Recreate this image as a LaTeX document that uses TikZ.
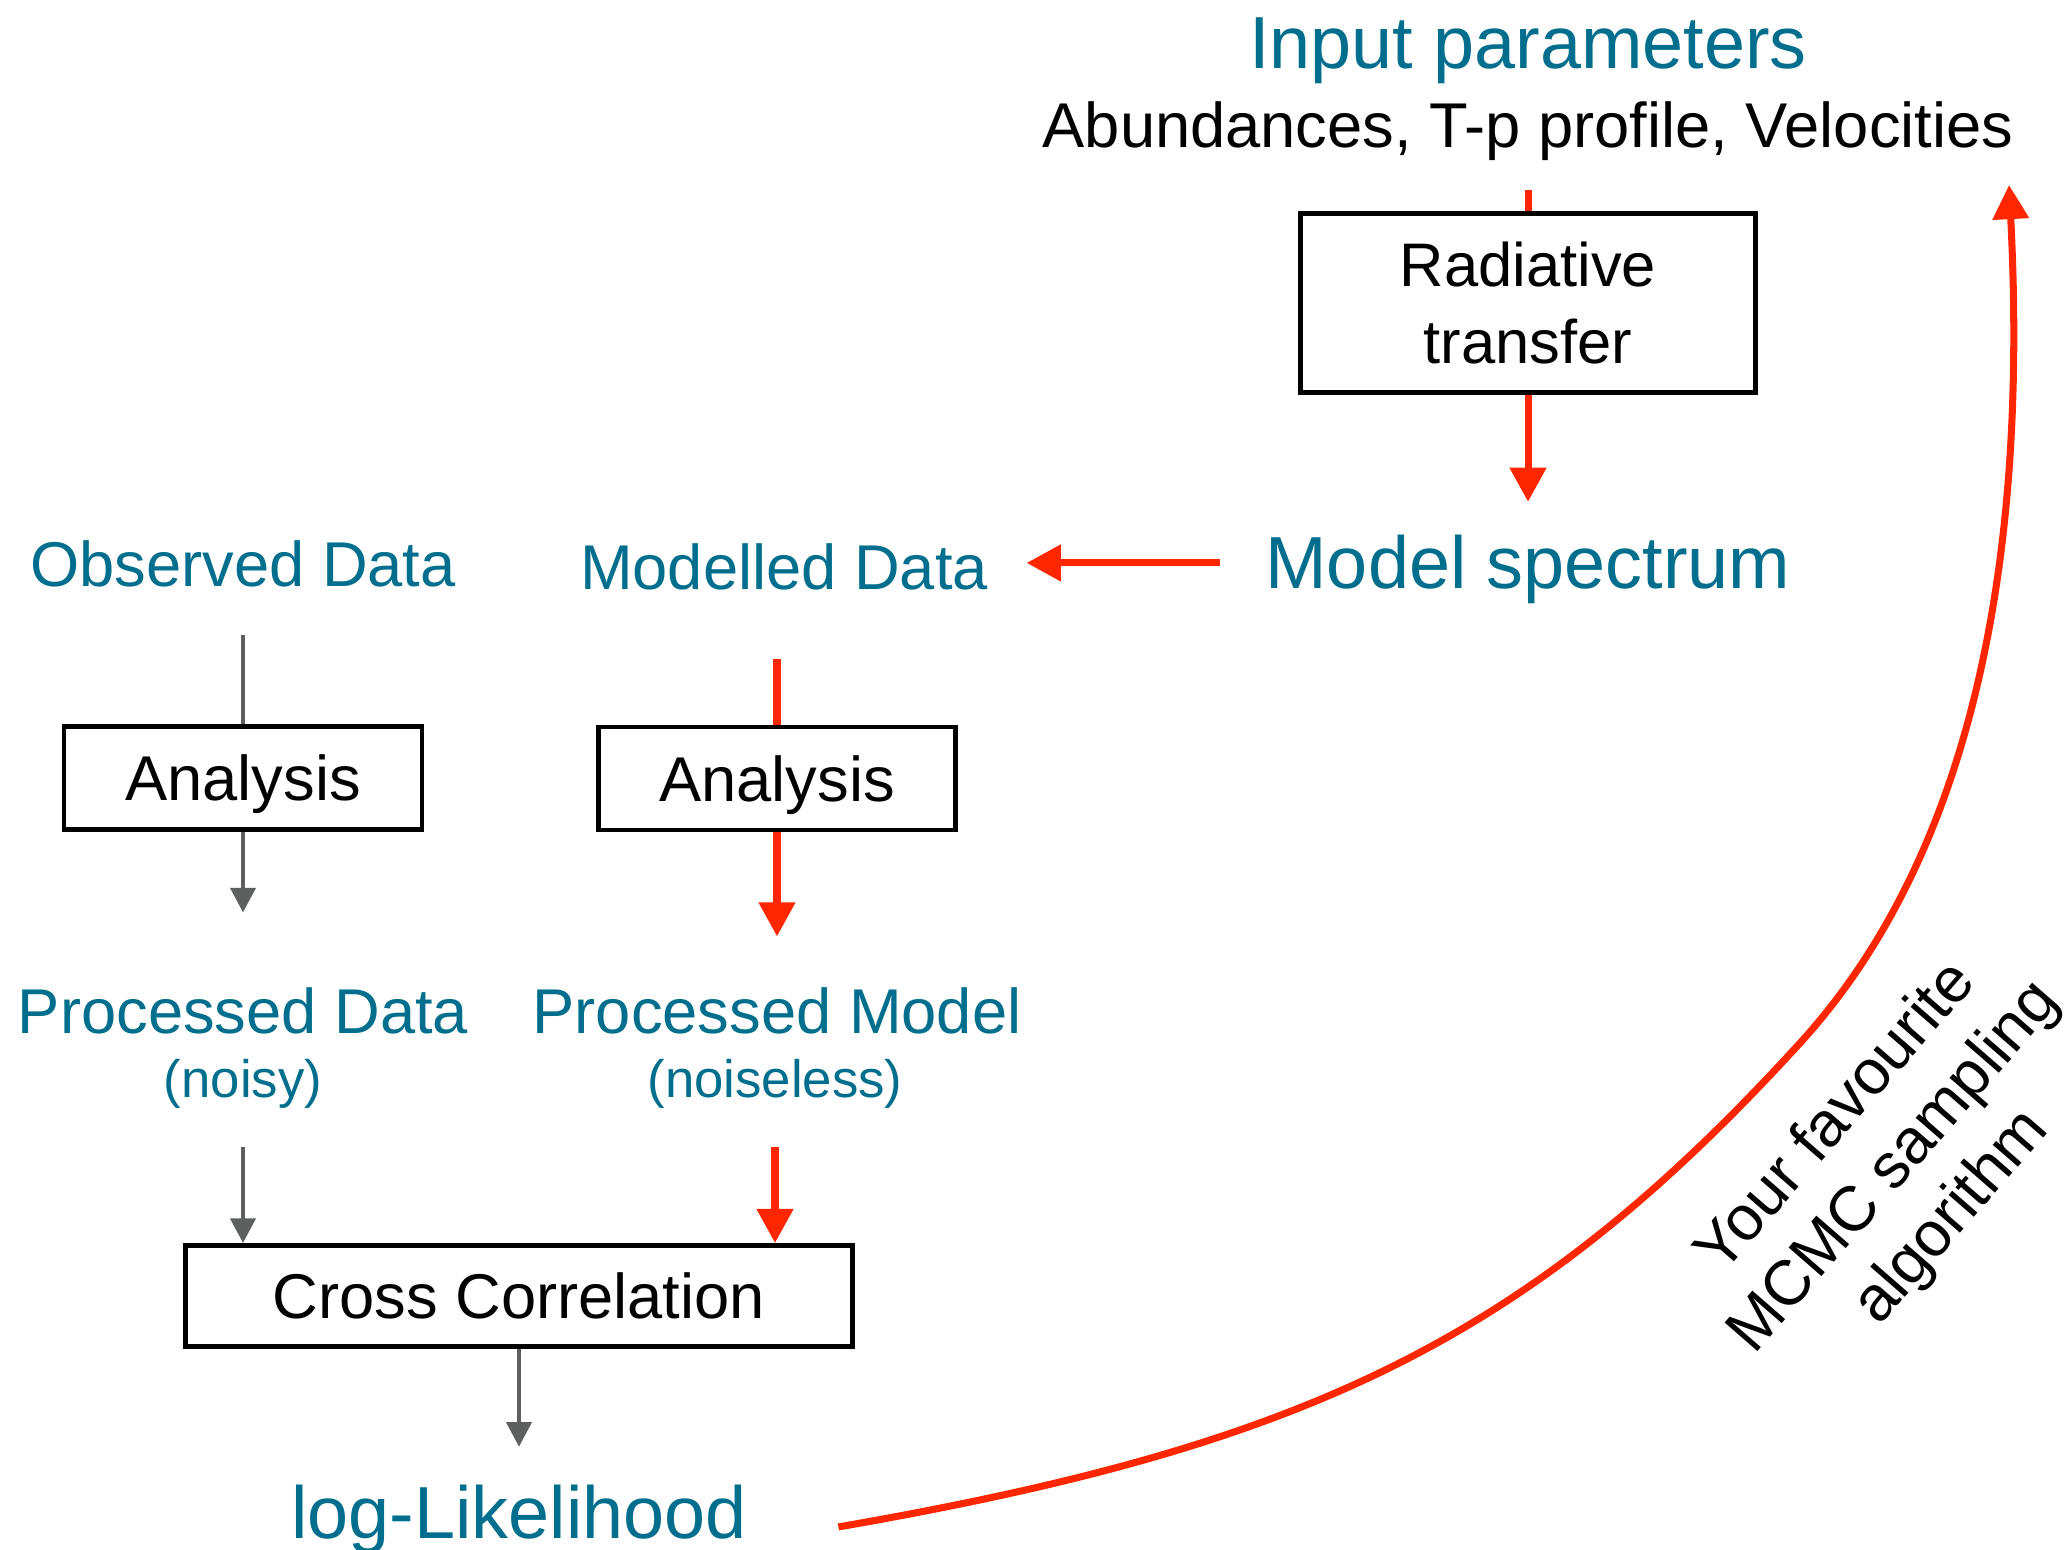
\documentclass[tikz,border=0pt]{standalone}
\usepackage{fontspec}
\setmainfont{Liberation Sans}
\usepackage{tikz}
\usetikzlibrary{arrows.meta, positioning}
\usepackage{xcolor}
\definecolor{labelblue}{RGB}{0, 110, 140}
\definecolor{flowred}{RGB}{255, 38, 0}
\definecolor{flowgray}{RGB}{94, 96, 96}

\tikzset{
  bigtitle/.style={text=labelblue, inner sep=0pt, anchor=base, font=\fontsize{21}{25}\selectfont},
  datalabel/.style={text=labelblue, inner sep=0pt, anchor=base, font=\fontsize{18}{22}\selectfont},
  notelabel/.style={text=labelblue, inner sep=0pt, anchor=base, font=\fontsize{15}{18}\selectfont},
  procbox/.style={draw=black, line width=1.4pt, inner sep=0pt, text depth=0pt,
                  align=center, font=\fontsize{17.5}{21.9}\selectfont},
  redline/.style={draw=flowred, line width=2pt},
  redarrow/.style={redline, -{Triangle[length=9.7pt, width=10pt]}},
  grayline/.style={draw=flowgray, line width=1.4pt},
  grayarrow/.style={grayline, -{Triangle[length=7pt, width=7pt]}},
}

\begin{document}
\begin{tikzpicture}
    \useasboundingbox (0,0) rectangle (20.70,-15.49);

    % Forward model
    \node[bigtitle] (inparams) at (15.28,-0.68) {Input parameters};
    \node[inner sep=0pt, anchor=base, font=\fontsize{18}{22}\selectfont] (abund) at (15.28,-1.47)
      {Abundances, T-p profile, Velocities};
    \node[procbox, minimum width=4.55cm, minimum height=1.79cm] (radtrans) at (15.28,-3.03)
      {Radiative\\transfer};
    \node[bigtitle] (spectrum) at (15.28,-5.88) {Model spectrum};

    % Data branch
    \node[datalabel] (observed) at (2.43,-5.86) {Observed Data};
    \node[procbox, font=\fontsize{18}{22}\selectfont,
          minimum width=3.58cm, minimum height=1.03cm] (ana1) at (2.43,-7.78) {Analysis};
    \node[datalabel] (procdata) at (2.43,-10.335) {Processed Data};
    \node[notelabel] (noisy) at (2.43,-10.97) {(noisy)};

    % Model branch
    \node[datalabel] (modelled) at (7.84,-5.89) {Modelled Data};
    \node[procbox, font=\fontsize{18}{22}\selectfont,
          minimum width=3.57cm, minimum height=1.03cm] (ana2) at (7.77,-7.785) {Analysis};
    \node[datalabel] (procmodel) at (7.77,-10.335) {Processed Model};
    \node[notelabel] (noiseless) at (7.75,-10.97) {(noiseless)};

    % Comparison
    \node[procbox, font=\fontsize{18}{22}\selectfont,
          minimum width=6.67cm, minimum height=1.01cm] (cross) at (5.19,-12.96) {Cross Correlation};
    \node[bigtitle] (lik) at (5.19,-15.38) {log-Likelihood};

    % Sampler
    \node[rotate=49, align=center, inner sep=0pt, font=\fontsize{18}{21.6}\selectfont] (mcmc)
      at (18.95,-11.68) {Your favourite\\MCMC sampling\\algorithm};
    \coordinate (looptop) at (20.09,-1.85);

    % Arrows
    \draw[redline, shorten <=0.29cm] (abund) -- (radtrans);
    \draw[redarrow, shorten >=0.32cm] (radtrans) -- (spectrum);
    \draw[redarrow, shorten <=0.45cm, shorten >=0.38cm]
      ([yshift=0.06cm]spectrum.west) -- ([yshift=0.06cm]spectrum.west -| modelled.east);
    \draw[grayline, shorten <=0.48cm] (observed) -- (ana1);
    \draw[grayarrow, shorten >=0.745cm] (ana1) -- (procdata);
    \draw[redline, shorten <=0.69cm] (ana2.north |- modelled.south) -- (ana2.north);
    \draw[redarrow, shorten >=0.505cm] (ana2.south) -- (ana2.south |- procmodel.north);
    \draw[grayarrow, shorten <=0.38cm] (noisy.south) -- (noisy.south |- cross.north);
    \draw[redarrow, shorten <=0.38cm] (noiseless.south) -- (noiseless.south |- cross.north);
    \draw[grayarrow, shorten >=0.37cm] (cross) -- (lik);
    \draw[redarrow] ([xshift=0.91cm, yshift=-0.08cm]lik.east)
      .. controls (13.10,-14.45) and (15.30,-13.39) .. (18.00,-10.43)
      .. controls (19.89,-8.36) and (20.26,-5.15) .. (looptop);
\end{tikzpicture}
\end{document}
